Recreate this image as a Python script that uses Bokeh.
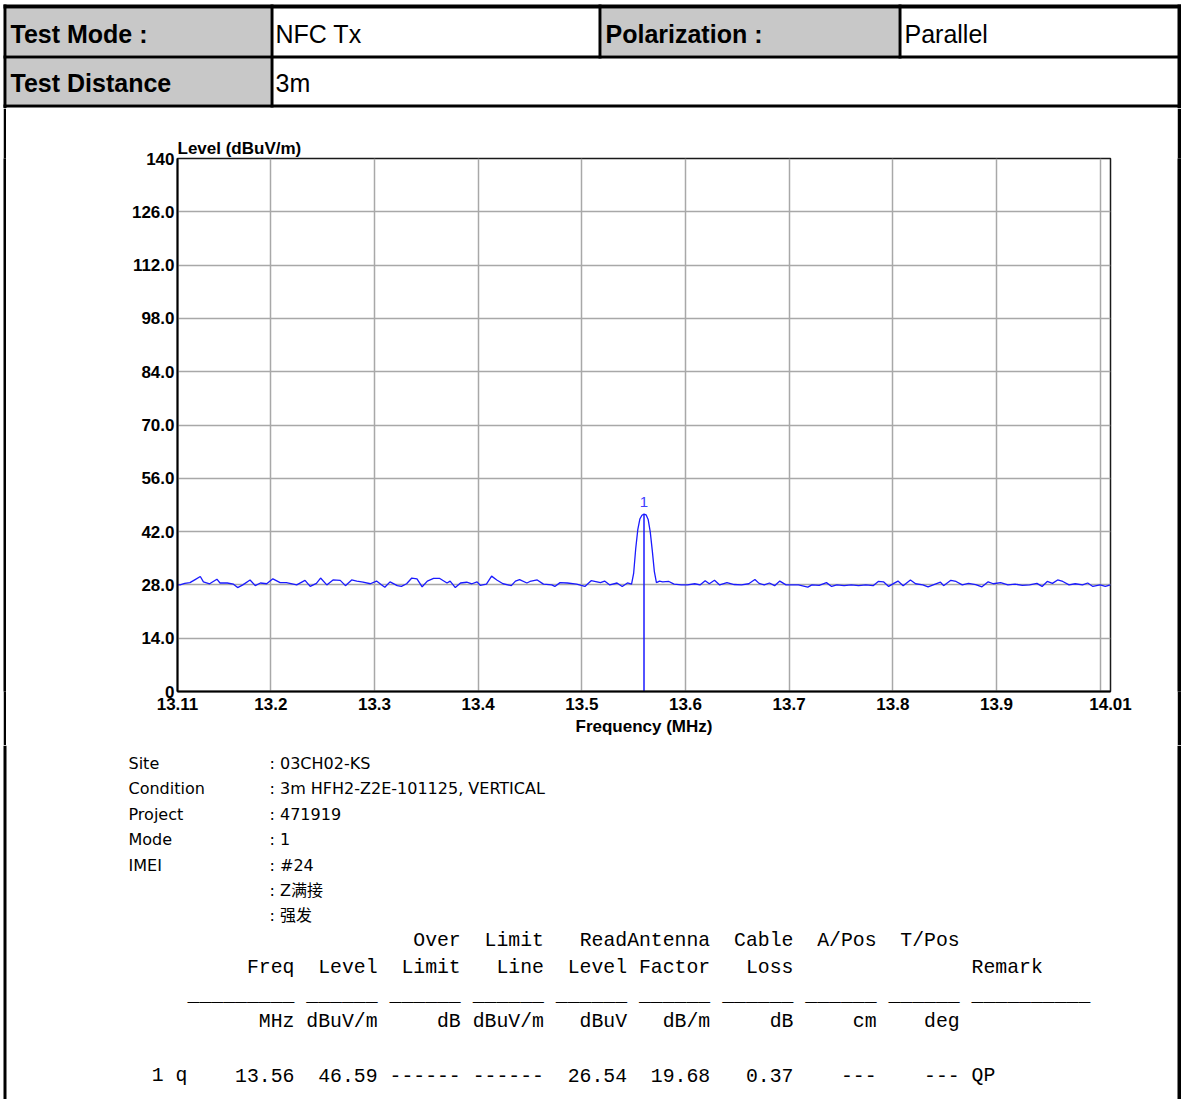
from bokeh.plotting import figure
from bokeh.layouts import column, row
from bokeh.models import Range1d, FixedTicker, Spacer
from bokeh.core.properties import value
from bokeh.embed import file_html
from bokeh.resources import INLINE

# ---------------- data ----------------
header_labels = ["Test Mode :", "Polarization :", "Test Distance"]
header_values = ["NFC Tx", "Parallel", "3m"]

freq_mhz = [
    13.110, 13.1125, 13.117, 13.122, 13.127, 13.132, 13.135, 13.141, 13.148, 13.151,
    13.158, 13.164, 13.168, 13.173, 13.180, 13.185, 13.190, 13.196, 13.202, 13.209,
    13.215, 13.225, 13.233, 13.238, 13.244, 13.248, 13.254, 13.260, 13.267, 13.272,
    13.278, 13.283, 13.289, 13.296, 13.302, 13.307, 13.310, 13.315, 13.322, 13.326,
    13.331, 13.336, 13.341, 13.346, 13.351, 13.357, 13.363, 13.370, 13.373, 13.378,
    13.383, 13.389, 13.394, 13.399, 13.402, 13.408, 13.413, 13.418, 13.424, 13.432,
    13.436, 13.440, 13.447, 13.450, 13.457, 13.463, 13.471, 13.474, 13.479, 13.486,
    13.495, 13.503, 13.509, 13.518, 13.522, 13.527, 13.534, 13.539, 13.544, 13.548,
    13.550, 13.552, 13.554, 13.556, 13.558, 13.560, 13.562, 13.564, 13.566, 13.568,
    13.570, 13.572, 13.575, 13.578, 13.584, 13.589, 13.596, 13.602, 13.609, 13.614,
    13.619, 13.623, 13.628, 13.633, 13.640, 13.647, 13.654, 13.661, 13.667, 13.671,
    13.676, 13.681, 13.686, 13.691, 13.697, 13.702, 13.709, 13.718, 13.722, 13.729,
    13.736, 13.741, 13.746, 13.753, 13.760, 13.767, 13.774, 13.781, 13.786, 13.791,
    13.796, 13.801, 13.805, 13.810, 13.817, 13.822, 13.829, 13.834, 13.839, 13.846,
    13.849, 13.856, 13.861, 13.867, 13.873, 13.880, 13.886, 13.892, 13.897, 13.904,
    13.911, 13.918, 13.925, 13.932, 13.939, 13.944, 13.949, 13.954, 13.959, 13.964,
    13.970, 13.976, 13.983, 13.988, 13.993, 14.000, 14.005, 14.010,
]
level_dbuvm = [
    28.0, 28.0, 28.4, 28.6, 29.4, 30.2, 28.8, 28.3, 29.5, 28.5,
    28.5, 28.2, 27.3, 28.0, 29.3, 27.8, 28.5, 28.3, 29.6, 28.6,
    28.6, 28.0, 29.2, 27.6, 28.4, 29.8, 28.0, 29.3, 29.2, 27.8,
    29.3, 29.0, 28.7, 28.3, 29.0, 28.0, 27.4, 28.8, 27.8, 27.6,
    28.3, 29.8, 29.6, 27.5, 29.0, 29.7, 29.7, 28.5, 29.0, 27.3,
    28.5, 28.7, 28.3, 28.8, 27.9, 28.2, 30.3, 29.3, 28.3, 27.8,
    29.0, 29.4, 28.5, 28.9, 29.3, 28.2, 28.0, 27.6, 28.6, 28.5,
    28.2, 27.6, 29.1, 28.6, 29.0, 28.0, 28.5, 27.6, 28.5, 28.2,
    31.0, 37.5, 42.5, 45.3, 46.3, 46.59, 46.4, 45.2, 42.0, 37.0,
    31.5, 28.6, 29.0, 28.8, 28.9, 28.2, 28.0, 28.0, 28.3, 28.0,
    29.1, 28.3, 29.2, 28.0, 28.6, 28.1, 28.0, 28.3, 29.4, 28.4,
    28.0, 28.5, 27.8, 29.0, 28.0, 28.0, 28.0, 27.4, 28.0, 27.9,
    28.6, 27.6, 28.0, 27.8, 28.0, 27.8, 28.0, 27.8, 28.9, 28.8,
    27.6, 28.4, 29.0, 27.8, 29.3, 28.3, 28.0, 27.5, 28.0, 28.7,
    27.8, 29.2, 28.9, 28.0, 28.4, 28.1, 27.5, 28.8, 28.3, 28.6,
    28.0, 28.2, 27.9, 28.0, 28.4, 27.6, 28.9, 28.4, 29.3, 28.9,
    28.0, 28.3, 28.0, 28.5, 27.6, 28.0, 27.6, 28.0,
]

marker_ids = ["1"]
marker_freq = [13.56]
marker_level = [46.59]

x_ticks = [13.11, 13.2, 13.3, 13.4, 13.5, 13.6, 13.7, 13.8, 13.9, 14.01]
x_tick_labels = ["13.11", "13.2", "13.3", "13.4", "13.5", "13.6", "13.7", "13.8", "13.9", "14.01"]
x_grid_ticks = [13.2, 13.3, 13.4, 13.5, 13.6, 13.7, 13.8, 13.9, 14.0]
y_ticks = [0, 14, 28, 42, 56, 70, 84, 98, 112, 126, 140]
y_tick_labels = ["0", "14.0", "28.0", "42.0", "56.0", "70.0", "84.0", "98.0", "112.0", "126.0", "140"]

info_labels = ["Site", "Condition", "Project", "Mode", "IMEI", "", ""]
info_values = ["03CH02-KS", "3m HFH2-Z2E-101125, VERTICAL", "471919", "1", "#24", "Z满接", "强发"]

tbl_head1 = ["", "", "Over", "Limit", "", "ReadAntenna", "Cable", "A/Pos", "T/Pos"]
tbl_head2 = ["Freq", "Level", "Limit", "Line", "Level", "Factor", "Loss", "", ""]
tbl_units = ["MHz", "dBuV/m", "dB", "dBuV/m", "dBuV", "dB/m", "dB", "cm", "deg"]
tbl_row_id = "1 q"
tbl_row = ["13.56", "46.59", "------", "------", "26.54", "19.68", "0.37", "---", "---"]
tbl_remark_head = "Remark"
tbl_remark = "QP"

# ---------------- layout constants (px) ----------------
W, H = 1181, 1099
SANS = "Liberation Sans"
MONO = "Liberation Mono"
INFO_FONT = "DejaVu Sans, Noto Sans CJK SC"
H_HEAD, H_CHART = 108, 637
H_TEXT = H - H_HEAD - H_CHART
BK = "black"
BL, BR = 3, 6            # left outer border
RL, RR = W - 4, W        # right outer border
TICK_PX = "17px"


def blank(w, h, y_top):
    f = figure(width=w, height=h, x_range=Range1d(0, w),
               y_range=Range1d(y_top + h, y_top),
               output_backend="svg", toolbar_location=None,
               min_border=0, x_axis_type=None, y_axis_type=None)
    f.outline_line_color = None
    f.background_fill_color = "white"
    f.border_fill_color = "white"
    return f


# ---------------- header table ----------------
ha = blank(W, H_HEAD, 0)
ha.quad(left=[BR, BR, 601], right=[270, 270, 898], top=[8, 58, 8],
        bottom=[55, 104, 55], color="#c8c8c8", line_color=None)
ha.quad(left=[BL, BL, RL, BL, BL, 270, 598, 898],
        right=[RR, BR, RR, RR, RR, 273, 601, 901],
        top=[4, 4, 4, 55, 104, 4, 4, 4],
        bottom=[8, H_HEAD, H_HEAD, 58, 107, 107, 58, 58],
        color=BK, line_color=None)
ha.text(x=[10, 605, 10], y=[33, 33, 82], text=header_labels,
        text_font=value(SANS), text_font_style="bold", text_font_size="25px",
        text_baseline="middle", text_align="left", text_color=BK)
ha.text(x=[275, 904, 275], y=[33, 33, 82], text=header_values,
        text_font=value(SANS), text_font_size="25px",
        text_baseline="middle", text_align="left", text_color=BK)


# ---------------- chart ----------------
def black_strip(w, h):
    s = figure(width=w, height=h, output_backend="svg", toolbar_location=None,
               min_border=0, x_axis_type=None, y_axis_type=None)
    s.outline_line_color = None
    s.background_fill_color = BK
    s.border_fill_color = BK
    return s


p = figure(width=W - BR - 4, height=H_CHART, x_range=Range1d(13.11, 14.01),
           y_range=Range1d(0, 140), output_backend="svg", toolbar_location=None,
           min_border_left=171, min_border_right=67, min_border_top=50,
           min_border_bottom=H_CHART - 50 - 533, title="Level (dBuV/m)")
p.background_fill_color = "white"
p.border_fill_color = "white"
p.outline_line_color = "#1a1a1a"
p.outline_line_width = 1.5
p.title.text_font = SANS
p.title.text_font_size = TICK_PX
p.title.text_font_style = "bold"
p.title.text_color = BK
p.title.align = "left"
p.title.offset = 0
p.title.standoff = 2

p.xaxis.ticker = FixedTicker(ticks=x_ticks)
p.xaxis.major_label_overrides = dict(zip(x_ticks, x_tick_labels))
p.yaxis.ticker = FixedTicker(ticks=y_ticks)
p.yaxis.major_label_overrides = dict(zip(y_ticks, y_tick_labels))
p.xgrid.ticker = FixedTicker(ticks=x_grid_ticks)
p.ygrid.ticker = FixedTicker(ticks=y_ticks)
p.xaxis.axis_label = "Frequency (MHz)"
for ax in (p.xaxis, p.yaxis):
    ax.axis_line_color = BK
    ax.axis_line_width = 2
    ax.major_tick_in = 0
    ax.major_tick_out = 0
    ax.minor_tick_in = 0
    ax.minor_tick_out = 0
    ax.major_label_text_font = SANS
    ax.major_label_text_font_style = "bold"
    ax.major_label_text_font_size = TICK_PX
    ax.major_label_text_color = BK
    ax.axis_label_text_font = SANS
    ax.axis_label_text_font_style = "bold"
    ax.axis_label_text_font_size = TICK_PX
    ax.axis_label_text_color = BK
p.xaxis.major_label_standoff = 6
p.yaxis.major_label_standoff = 3
p.xaxis.axis_label_standoff = 4
for g in (p.xgrid, p.ygrid):
    g.grid_line_color = "#a8a8a8"
    g.grid_line_width = 1.5

p.line(freq_mhz, level_dbuvm, line_color="#1a1aff", line_width=1.3)
p.segment(x0=marker_freq, y0=[0] * len(marker_freq), x1=marker_freq, y1=marker_level,
          line_color="#1a1aff", line_width=1.5)
p.text(x=marker_freq, y=marker_level, text=marker_ids, y_offset=-7,
       text_align="center", text_baseline="bottom", text_font=value(SANS),
       text_font_size="15px", text_color="#4040ff")

chart_row = row(Spacer(width=BL, height=H_CHART), black_strip(BR - BL, H_CHART),
                p, black_strip(RR - RL, H_CHART))

# ---------------- text block ----------------
Y_T = H_HEAD + H_CHART
tb = blank(W, H_TEXT, Y_T)
tb.quad(left=[BL, RL], right=[BR, RR], top=[Y_T, Y_T],
        bottom=[H, H], color=BK, line_color=None)
info_y = [763 + 25.4 * i for i in range(len(info_labels))]
tb.text(x=[128] * len(info_labels), y=info_y, text=info_labels,
        text_font=value(INFO_FONT), text_font_size="16px",
        text_baseline="middle", text_align="left", text_color=BK)
tb.text(x=[269] * len(info_values), y=info_y, text=[": " + v for v in info_values],
        text_font=value(INFO_FONT), text_font_size="16px",
        text_baseline="middle", text_align="left", text_color=BK)

CH = 11.88
C0 = 187
col_end = [8, 15, 22, 29, 36, 43, 50, 57, 64]
col_width = [9, 6, 6, 6, 6, 6, 6, 6, 6]
remark_idx = 66
remark_width = 10
xr = [C0 + (e + 1) * CH for e in col_end]
x_remark = C0 + remark_idx * CH


def mono_row(tokens, y):
    xs = [x for x, t in zip(xr, tokens) if t]
    ts = [t for t in tokens if t]
    tb.text(x=xs, y=[y] * len(ts), text=ts, text_font=value(MONO),
            text_font_size="19.8px", text_baseline="middle", text_align="right",
            text_color=BK)


def mono_left(x, y, t):
    tb.text(x=[x], y=[y], text=[t], text_font=value(MONO), text_font_size="19.8px",
            text_baseline="middle", text_align="left", text_color=BK)


mono_row(tbl_head1, 940)
mono_row(tbl_head2, 967)
mono_left(x_remark, 967, tbl_remark_head)
mono_row(["_" * w for w in col_width], 995)
mono_left(x_remark, 995, "_" * remark_width)
mono_row(tbl_units, 1021)
mono_row(tbl_row, 1075)
mono_left(C0 - 3 * CH, 1075, tbl_row_id)
mono_left(x_remark, 1075, tbl_remark)

page = column(ha, chart_row, tb)
open("out.html", "w").write(file_html(page, INLINE))
